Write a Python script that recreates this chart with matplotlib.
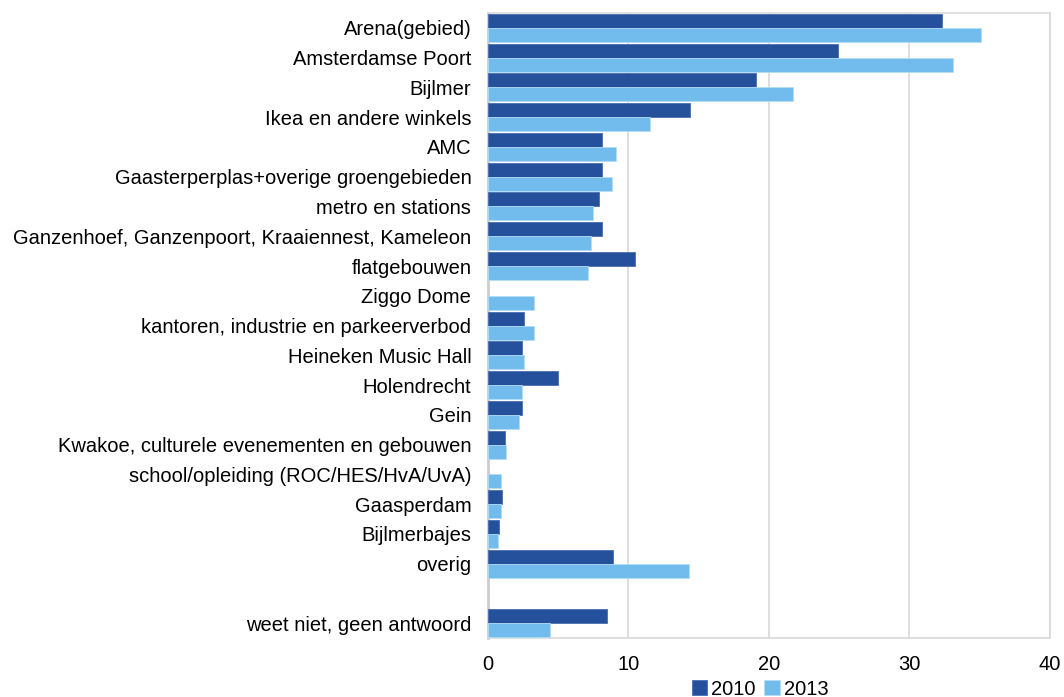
import numpy as np
import matplotlib.pyplot as plt

plt.rcParams['font.family'] = ['Liberation Sans', 'DejaVu Sans']

# categories top to bottom; '' is the empty row before the last one
categories = ['Arena(gebied)', 'Amsterdamse Poort', 'Bijlmer', 'Ikea en andere winkels',
              'AMC', 'Gaasterperplas+overige groengebieden', 'metro en stations',
              'Ganzenhoef, Ganzenpoort, Kraaiennest, Kameleon', 'flatgebouwen',
              'Ziggo Dome', 'kantoren, industrie en parkeerverbod', 'Heineken Music Hall',
              'Holendrecht', 'Gein', 'Kwakoe, culturele evenementen en gebouwen',
              'school/opleiding (ROC/HES/HvA/UvA)', 'Gaasperdam', 'Bijlmerbajes',
              'overig', '', 'weet niet, geen antwoord']
# nan = no bar
v2010 = [32.3, 24.9, 19.1, 14.4, 8.1, 8.1, 7.9, 8.1, 10.5,
         np.nan, 2.6, 2.4, 5.0, 2.4, 1.2, np.nan, 1.0, 0.8, 8.9, np.nan, 8.5]
v2013 = [35.1, 33.1, 21.7, 11.5, 9.1, 8.8, 7.5, 7.3, 7.1,
         3.3, 3.3, 2.6, 2.4, 2.2, 1.3, 0.9, 0.9, 0.7, 14.3, np.nan, 4.4]

dark = '#25519C'
light = '#71BCEC'

fig = plt.figure(figsize=(10.64, 6.97), dpi=100)
ax = fig.add_axes([0.4586, 0.0846, 0.5282, 0.8967])

y = np.arange(len(categories))
h = 0.47
ax.barh(y - h / 2, v2010, height=h, color=dark, edgecolor='#4a6fb0', linewidth=0.6,
        label='2010', zorder=3)
ax.barh(y + h / 2, v2013, height=h, color=light, edgecolor='#b5dcf5', linewidth=0.6,
        label='2013', zorder=3)

ax.set_xlim(0, 40)
ax.set_ylim(len(categories) - 0.5, -0.5)
ax.set_xticks([0, 10, 20, 30, 40])
ax.set_yticks(y)
ax.set_yticklabels(categories)
ax.tick_params(axis='both', length=0, labelsize=14.5)
ax.tick_params(axis='y', pad=12)
ax.tick_params(axis='x', pad=12)

ax.grid(axis='x', color='#d9d9d9', linewidth=1.2, zorder=0)
for side in ['top', 'right', 'bottom']:
    ax.spines[side].set_color('#d9d9d9')
    ax.spines[side].set_linewidth(1.2)
ax.spines['left'].set_color('#cccccc')
ax.spines['left'].set_linewidth(2)

ax.legend(loc='center', bbox_to_anchor=(0.484, -0.082), ncol=2, frameon=False,
          fontsize=14.5, handlelength=0.75, handleheight=0.75, handletextpad=0.2,
          columnspacing=0.45, borderaxespad=0, borderpad=0)

fig.savefig('out.png', dpi=100)
